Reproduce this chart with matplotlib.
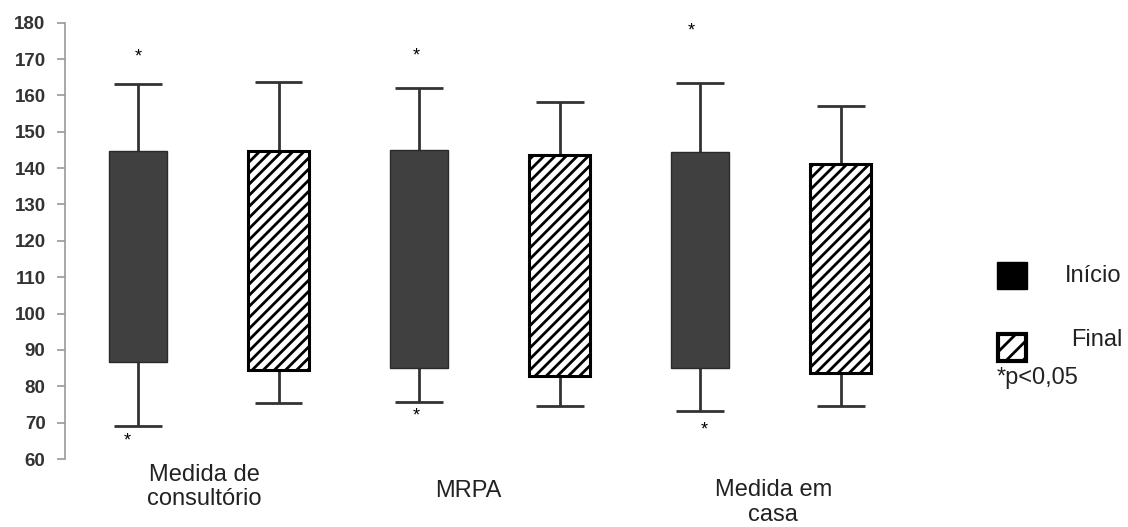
import matplotlib
matplotlib.use("Agg")
import matplotlib.pyplot as plt
import matplotlib.transforms as mtransforms
from matplotlib.patches import Rectangle

# values (mmHg)
categories = ["Medida de\nconsultório", "MRPA", "Medida em\ncasa"]
inicio_low = [69.1, 75.8, 73.3]
inicio_q1 = [86.8, 85.0, 85.0]
inicio_q3 = [144.6, 145.0, 144.5]
inicio_high = [163.1, 162.1, 163.4]
final_low = [75.3, 74.5, 74.5]
final_q1 = [84.4, 82.8, 83.6]
final_q3 = [144.6, 143.5, 141.0]
final_high = [163.7, 158.1, 157.1]
# significance stars on the "Início" boxes
star_up = [170.6, 170.8, 177.7]
star_down = [65.0, 71.7, 68.1]
yticks = list(range(60, 181, 10))

plt.rcParams["font.family"] = ["Liberation Sans", "DejaVu Sans"]
plt.rcParams["hatch.linewidth"] = 2.0

fig = plt.figure(figsize=(11.28, 5.27), dpi=100)
ax = fig.add_axes([0.0576, 0.129, 0.75, 0.828])

x_ini = [2 * i for i in range(len(categories))]
x_fin = [2 * i + 1 for i in range(len(categories))]
bw, cw = 0.41, 0.34

ax.bar(x_ini, [t - b for t, b in zip(inicio_q3, inicio_q1)], bottom=inicio_q1,
       width=bw, color="#404040", edgecolor="#2a2a2a", linewidth=1, zorder=3)
ax.bar(x_fin, [t - b for t, b in zip(final_q3, final_q1)], bottom=final_q1,
       width=bw + 0.02, color="white", edgecolor="black", hatch="///", linewidth=2.2, zorder=3)

for xs, lo, q1, q3, hi in [(x_ini, inicio_low, inicio_q1, inicio_q3, inicio_high),
                           (x_fin, final_low, final_q1, final_q3, final_high)]:
    ax.vlines(xs, q3, hi, color="#333333", lw=2, zorder=2)
    ax.vlines(xs, lo, q1, color="#333333", lw=2, zorder=2)
    ax.hlines(hi, [x - cw / 2 for x in xs], [x + cw / 2 for x in xs], color="#333333", lw=2)
    ax.hlines(lo, [x - cw / 2 for x in xs], [x + cw / 2 for x in xs], color="#333333", lw=2)

up_dx = [0.0, -0.02, -0.06]
down_dx = [-0.08, -0.02, 0.03]
for x, su, sd, du, dd in zip(x_ini, star_up, star_down, up_dx, down_dx):
    ax.text(x + du, su, "*", ha="center", va="center", fontsize=13, color="black")
    ax.text(x + dd, sd, "*", ha="center", va="center", fontsize=13, color="black")

ax.set_ylim(60, 180)
ax.set_xlim(-0.52, 5.5)
ax.set_yticks(yticks)
ax.set_xticks([])
for s in ["top", "right", "bottom"]:
    ax.spines[s].set_visible(False)
ax.spines["left"].set_color("#999999")
ax.spines["left"].set_linewidth(1.2)
ax.tick_params(axis="y", length=6, width=1.2, color="#999999", pad=8)
for lab in ax.get_yticklabels():
    lab.set_fontweight("bold")
    lab.set_fontsize(13.5)
    lab.set_color("#333333")

# category labels, staggered as in the original
trans = mtransforms.blended_transform_factory(ax.transData, ax.transAxes)
lab_x = [0.47, 2.35, 4.52]
lab_y = [-0.064, -0.073, -0.10]
for c, lx, ly in zip(categories, lab_x, lab_y):
    ax.text(lx, ly, c, transform=trans, ha="center", va="center", fontsize=17,
            color="#222222", linespacing=1.15)

# hand-drawn legend on the right
fig.patches.append(Rectangle((997 / 1128, 1 - 289 / 527), 30 / 1128, 27 / 527,
                             transform=fig.transFigure, facecolor="black", edgecolor="black"))
fig.patches.append(Rectangle((998 / 1128, 1 - 361 / 527), 28 / 1128, 27 / 527,
                             transform=fig.transFigure, facecolor="white", edgecolor="black",
                             hatch="//", linewidth=3))
fig.text(1065 / 1128, 1 - 276 / 527, "Início", fontsize=17, color="#222222", va="center")
fig.text(1071 / 1128, 1 - 340 / 527, "Final", fontsize=17, color="#222222", va="center")
fig.text(997 / 1128, 1 - 378 / 527, "*p<0,05", fontsize=17, color="#222222", va="center")

fig.savefig("out.png", dpi=100)
